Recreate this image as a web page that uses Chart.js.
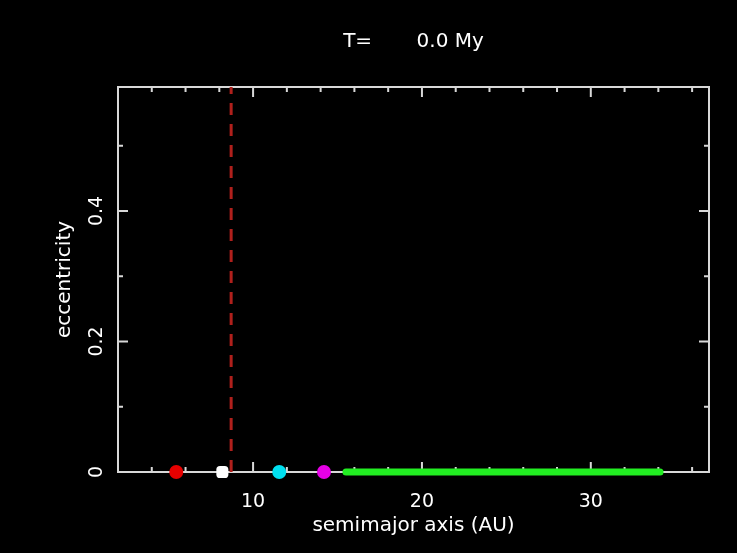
<!DOCTYPE html>
<html>
<head>
<meta charset="utf-8">
<script src="https://cdn.jsdelivr.net/npm/chart.js@4"></script>
<style>
  html, body { margin: 0; padding: 0; background: #000; }
  canvas { display: block; }
</style>
</head>
<body>
<canvas id="chart" width="737" height="553"></canvas>
<script>
// values
const TIME_LABEL = 'T=       0.0 My';
const X_RANGE = [2, 37];
const Y_RANGE = [0, 0.59];
const X_MAJOR = [10, 20, 30];
const X_MINOR = [4, 6, 8, 12, 14, 16, 18, 22, 24, 26, 28, 32, 34, 36];
const Y_MAJOR = [0, 0.2, 0.4];
const Y_MINOR = [0.1, 0.3, 0.5];
const Y_TICK_LABELS = ['0', '0.2', '0.4'];

const PLANET_NAMES = ['Jupiter', 'Saturn', 'Uranus', 'Neptune'];
const PLANET_A = [5.45, 8.18, 11.55, 14.2];
const PLANET_E = [0, 0, 0, 0];

const DISK_A = [15.5, 34.1];
const DISK_E = [0, 0];

const RESONANCE_A = 8.7;

const COLORS = {
  planets: ['#e60000', '#ffffff', '#00e0f0', '#e600e6'],
  disk: '#22ee22',
  dash: '#b0201c',
  frame: '#d8d8d8',
  text: '#ffffff'
};
const FONT = 'DejaVu Sans';

const blackBackground = {
  id: 'blackBackground',
  beforeDraw(chart) {
    const { ctx } = chart;
    ctx.save();
    ctx.fillStyle = '#000';
    ctx.fillRect(0, 0, chart.width, chart.height);
    ctx.restore();
  }
};

// box with inward ticks, like the old pgplot frames
const frameTicks = {
  id: 'frameTicks',
  beforeDatasetsDraw(chart) {
    const { ctx, chartArea: a, scales: { x, y } } = chart;
    ctx.save();
    ctx.strokeStyle = COLORS.frame;
    ctx.lineWidth = 2;
    ctx.strokeRect(a.left, a.top, a.right - a.left, a.bottom - a.top);
    ctx.beginPath();
    const xt = (v, len) => {
      const px = x.getPixelForValue(v);
      ctx.moveTo(px, a.bottom); ctx.lineTo(px, a.bottom - len);
      ctx.moveTo(px, a.top); ctx.lineTo(px, a.top + len);
    };
    const yt = (v, len) => {
      const py = y.getPixelForValue(v);
      ctx.moveTo(a.left, py); ctx.lineTo(a.left + len, py);
      ctx.moveTo(a.right, py); ctx.lineTo(a.right - len, py);
    };
    X_MAJOR.forEach(v => xt(v, 10));
    X_MINOR.forEach(v => xt(v, 5));
    Y_MAJOR.forEach(v => yt(v, 10));
    Y_MINOR.forEach(v => yt(v, 5));
    ctx.stroke();

    // rotated y tick labels
    ctx.fillStyle = COLORS.text;
    ctx.font = `19px "${FONT}"`;
    ctx.textAlign = 'center';
    ctx.textBaseline = 'middle';
    Y_MAJOR.forEach((v, i) => {
      ctx.save();
      ctx.translate(a.left - 21, y.getPixelForValue(v));
      ctx.rotate(-Math.PI / 2);
      ctx.fillText(Y_TICK_LABELS[i], 0, 0);
      ctx.restore();
    });
    ctx.restore();
  }
};

const datasets = [
  {
    label: 'resonance',
    type: 'line',
    data: [{ x: RESONANCE_A, y: Y_RANGE[0] }, { x: RESONANCE_A, y: Y_RANGE[1] }],
    borderColor: COLORS.dash,
    borderWidth: 3,
    borderDash: [12, 9],
    pointRadius: 0
  },
  {
    label: 'planetesimals',
    type: 'line',
    data: DISK_A.map((a, i) => ({ x: a, y: DISK_E[i] })),
    borderColor: COLORS.disk,
    borderWidth: 7,
    borderCapStyle: 'round',
    pointRadius: 0,
    clip: false
  },
  ...PLANET_NAMES.map((name, i) => ({
    label: name,
    data: [{ x: PLANET_A[i], y: PLANET_E[i] }],
    backgroundColor: COLORS.planets[i],
    borderWidth: 0,
    pointRadius: 7,
    pointStyle: i === 1 ? 'rectRounded' : 'circle',
    clip: false
  }))
];

new Chart(document.getElementById('chart'), {
  type: 'scatter',
  data: { datasets },
  options: {
    responsive: false,
    animation: false,
    devicePixelRatio: 1,
    layout: { padding: { left: 0, right: 28, top: 0, bottom: 0 } },
    plugins: {
      legend: { display: false },
      tooltip: { enabled: false },
      title: {
        display: true,
        fullSize: false,
        text: TIME_LABEL,
        color: COLORS.text,
        font: { family: FONT, size: 20, weight: 'normal', lineHeight: 1.2 },
        padding: { top: 30, bottom: 33 }
      }
    },
    scales: {
      x: {
        type: 'linear',
        min: X_RANGE[0],
        max: X_RANGE[1],
        afterBuildTicks: s => { s.ticks = X_MAJOR.map(v => ({ value: v })); },
        afterFit: s => { s.height = 81; },
        grid: { display: false, drawTicks: false },
        border: { display: false },
        ticks: {
          color: COLORS.text,
          font: { family: FONT, size: 19 },
          padding: 19,
          autoSkip: false,
          maxRotation: 0
        },
        title: {
          display: true,
          text: 'semimajor axis (AU)',
          color: COLORS.text,
          font: { family: FONT, size: 20, lineHeight: 1.2 },
          padding: { top: 0, bottom: 15 }
        }
      },
      y: {
        type: 'linear',
        min: Y_RANGE[0],
        max: Y_RANGE[1],
        afterBuildTicks: s => { s.ticks = Y_MAJOR.map(v => ({ value: v })); },
        afterFit: s => { s.width = 118; },
        grid: { display: false, drawTicks: false },
        border: { display: false },
        ticks: { display: false },
        title: {
          display: true,
          text: 'eccentricity',
          color: COLORS.text,
          font: { family: FONT, size: 20, lineHeight: 1.2 },
          padding: { top: 53, bottom: 0 }
        }
      }
    }
  },
  plugins: [blackBackground, frameTicks]
});
</script>
</body>
</html>
